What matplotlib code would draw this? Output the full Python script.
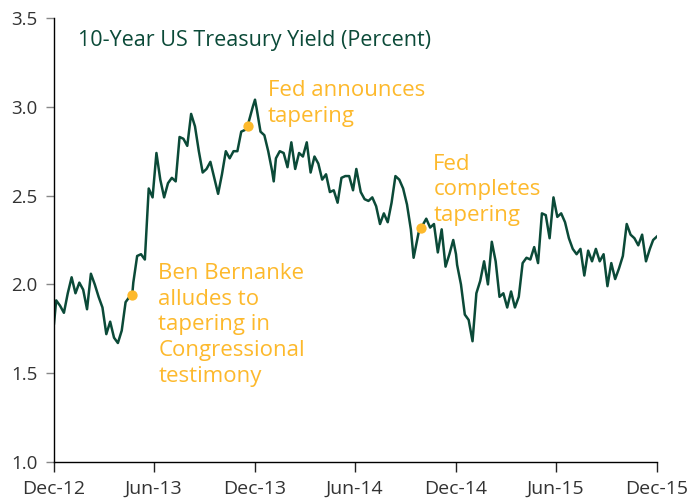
import matplotlib
matplotlib.use("Agg")
import matplotlib.pyplot as plt
import pandas as pd

plt.rcParams['font.family'] = ['Open Sans', 'DejaVu Sans']

# ---- data (10-year US Treasury yield, weekly readings) ----
dates_2013 = ["2012-12-31", "2013-01-04", "2013-01-11", "2013-01-18", "2013-01-25", "2013-02-01",
              "2013-02-08", "2013-02-15", "2013-02-22", "2013-03-01", "2013-03-08", "2013-03-15",
              "2013-03-22", "2013-03-29", "2013-04-05", "2013-04-12", "2013-04-19", "2013-04-26",
              "2013-05-03", "2013-05-10", "2013-05-17", "2013-05-22", "2013-05-24", "2013-05-31",
              "2013-06-07", "2013-06-14", "2013-06-21", "2013-06-28", "2013-07-05", "2013-07-12",
              "2013-07-19", "2013-07-26", "2013-08-02", "2013-08-09", "2013-08-16", "2013-08-23",
              "2013-08-30", "2013-09-06", "2013-09-13", "2013-09-20", "2013-09-27", "2013-10-04",
              "2013-10-11", "2013-10-18", "2013-10-25", "2013-11-01", "2013-11-08", "2013-11-15",
              "2013-11-22", "2013-11-29", "2013-12-06", "2013-12-13", "2013-12-18", "2013-12-20",
              "2013-12-27", "2013-12-31"]
yields_2013 = [1.78, 1.91, 1.88, 1.84, 1.95, 2.04,
               1.95, 2.01, 1.97, 1.86, 2.06, 2.00,
               1.93, 1.87, 1.72, 1.79, 1.70, 1.67,
               1.74, 1.90, 1.93, 1.94, 2.01, 2.16,
               2.17, 2.14, 2.54, 2.49, 2.74, 2.59,
               2.49, 2.57, 2.60, 2.58, 2.83, 2.82,
               2.78, 2.96, 2.89, 2.75, 2.63, 2.65,
               2.69, 2.60, 2.51, 2.62, 2.75, 2.71,
               2.75, 2.75, 2.86, 2.87, 2.89, 2.92,
               3.00, 3.04]

dates_2014 = ["2014-01-03", "2014-01-10", "2014-01-17", "2014-01-24", "2014-01-31", "2014-02-03",
              "2014-02-07", "2014-02-14", "2014-02-21", "2014-02-28", "2014-03-07", "2014-03-14",
              "2014-03-21", "2014-03-28", "2014-04-04", "2014-04-11", "2014-04-18", "2014-04-25",
              "2014-05-02", "2014-05-09", "2014-05-16", "2014-05-23", "2014-05-30", "2014-06-06",
              "2014-06-13", "2014-06-20", "2014-06-27", "2014-07-03", "2014-07-11", "2014-07-18",
              "2014-07-25", "2014-08-01", "2014-08-08", "2014-08-15", "2014-08-22", "2014-08-29",
              "2014-09-05", "2014-09-12", "2014-09-19", "2014-09-26", "2014-10-03", "2014-10-10",
              "2014-10-15", "2014-10-24", "2014-10-29", "2014-11-07", "2014-11-14", "2014-11-21",
              "2014-11-28", "2014-12-05", "2014-12-12", "2014-12-19", "2014-12-26", "2014-12-31"]
yields_2014 = [2.99, 2.86, 2.84, 2.75, 2.64, 2.58,
               2.71, 2.75, 2.74, 2.66, 2.80, 2.65,
               2.74, 2.72, 2.80, 2.63, 2.72, 2.68,
               2.59, 2.62, 2.52, 2.53, 2.46, 2.60,
               2.61, 2.61, 2.53, 2.65, 2.52, 2.48,
               2.47, 2.49, 2.44, 2.34, 2.40, 2.35,
               2.46, 2.61, 2.59, 2.54, 2.45, 2.31,
               2.15, 2.29, 2.32, 2.37, 2.32, 2.34,
               2.18, 2.31, 2.10, 2.17, 2.25, 2.17]

dates_2015 = ["2015-01-02", "2015-01-09", "2015-01-16", "2015-01-23", "2015-01-30", "2015-02-06",
              "2015-02-13", "2015-02-20", "2015-02-27", "2015-03-06", "2015-03-13", "2015-03-20",
              "2015-03-27", "2015-04-03", "2015-04-10", "2015-04-17", "2015-04-24", "2015-05-01",
              "2015-05-08", "2015-05-15", "2015-05-22", "2015-05-29", "2015-06-05", "2015-06-12",
              "2015-06-19", "2015-06-26", "2015-07-03", "2015-07-10", "2015-07-17", "2015-07-24",
              "2015-07-31", "2015-08-07", "2015-08-14", "2015-08-21", "2015-08-28", "2015-09-04",
              "2015-09-11", "2015-09-18", "2015-09-25", "2015-10-02", "2015-10-09", "2015-10-16",
              "2015-10-23", "2015-10-30", "2015-11-06", "2015-11-13", "2015-11-20", "2015-11-27",
              "2015-12-04", "2015-12-11", "2015-12-18", "2015-12-24", "2015-12-31"]
yields_2015 = [2.11, 2.00, 1.83, 1.80, 1.68, 1.95,
               2.02, 2.13, 2.00, 2.24, 2.13, 1.93,
               1.95, 1.87, 1.96, 1.87, 1.93, 2.12,
               2.15, 2.14, 2.21, 2.12, 2.40, 2.39,
               2.26, 2.49, 2.38, 2.40, 2.35, 2.26,
               2.20, 2.17, 2.20, 2.05, 2.19, 2.13,
               2.20, 2.13, 2.17, 1.99, 2.12, 2.03,
               2.09, 2.16, 2.34, 2.28, 2.26, 2.22,
               2.28, 2.13, 2.20, 2.25, 2.27]

event_dates = ["2013-05-22", "2013-12-18", "2014-10-29"]
event_values = [1.94, 2.89, 2.32]
event_labels = ["Ben Bernanke\nalludes to\ntapering in\nCongressional\ntestimony",
                "Fed announces\ntapering",
                "Fed\ncompletes\ntapering"]

tick_dates = ["2012-12-31", "2013-06-30", "2013-12-31", "2014-06-30",
              "2014-12-31", "2015-06-30", "2015-12-31"]
tick_labels = ["Dec-12", "Jun-13", "Dec-13", "Jun-14", "Dec-14", "Jun-15", "Dec-15"]
y_ticks = [1.0, 1.5, 2.0, 2.5, 3.0, 3.5]

title = "10-Year US Treasury Yield (Percent)"

# ---- plotting ----
GREEN = "#0b4a38"
GOLD = "#fdb92c"

dates = pd.to_datetime(dates_2013 + dates_2014 + dates_2015)
yields = yields_2013 + yields_2014 + yields_2015

fig = plt.figure(figsize=(6.94, 5.00), dpi=100)
ax = fig.add_axes([54 / 694, 1 - 462 / 500, (657 - 54) / 694, (462 - 18) / 500])

ax.plot(dates, yields, color=GREEN, linewidth=1.8, solid_joinstyle="round", zorder=2)

ev = pd.to_datetime(event_dates)
ax.scatter(ev, event_values, s=55, color=GOLD, zorder=3, linewidths=0)

# offsets in pixels (converted to points) from each dot to the top-left of its text
offsets_px = [(26, 32), (20, 46), (12, 74)]
for d, v, lab, (dx, dy) in zip(ev, event_values, event_labels, offsets_px):
    ax.annotate(lab, xy=(d, v), xytext=(dx * 0.72, dy * 0.72), textcoords="offset points",
                color=GOLD, fontsize=16, ha="left", va="top", linespacing=1.29)

ax.set_xlim(pd.Timestamp("2012-12-31"), pd.Timestamp("2015-12-31"))
ax.set_ylim(1.0, 3.5)
ax.set_xticks(pd.to_datetime(tick_dates))
ax.set_xticklabels(tick_labels)
ax.set_yticks(y_ticks)
ax.set_yticklabels([f"{t:.1f}" for t in y_ticks])

for s in ["top", "right"]:
    ax.spines[s].set_visible(False)
for s in ["left", "bottom"]:
    ax.spines[s].set_color("black")
    ax.spines[s].set_linewidth(1.0)

ax.tick_params(axis="y", length=6, width=1, color="#888888", labelsize=13.5,
               labelcolor="#333333", pad=6)
ax.tick_params(axis="x", length=7, width=1, color="#222222", labelsize=14,
               labelcolor="#333333", pad=6)

ax.text(0.04, 0.973, title, transform=ax.transAxes, color=GREEN, fontsize=15.5,
        ha="left", va="top")

fig.savefig("out.png", dpi=100)
